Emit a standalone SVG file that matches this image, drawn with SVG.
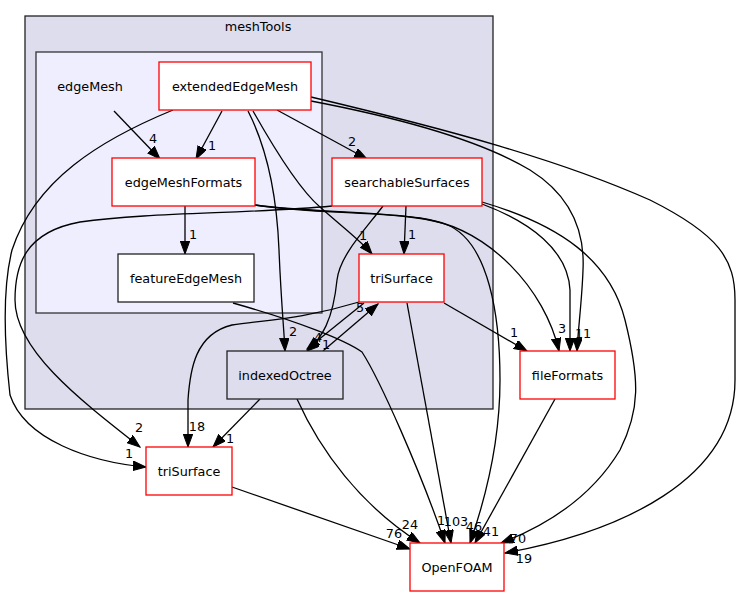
<svg xmlns="http://www.w3.org/2000/svg" width="741" height="596" viewBox="0 0 741 596">
<defs>
<marker id="ah" markerUnits="userSpaceOnUse" markerWidth="14" markerHeight="10" refX="13" refY="4.75" orient="auto">
<path d="M0,0 L13,4.75 L0,9.5 z" fill="#000" stroke="#000" stroke-width="1"/>
</marker>
</defs>
<style>
text{font-family:"DejaVu Sans",sans-serif;font-size:12.8px;fill:#000;text-anchor:middle}
.cl1{fill:#ddddee;stroke:#222;stroke-width:1.3}
.cl2{fill:#eeeeff;stroke:#333;stroke-width:1.3}
.red{fill:#fff;stroke:#ff0000;stroke-width:1.3}
.blk{fill:#fff;stroke:#222;stroke-width:1.3}
.blkg{fill:#ddddee;stroke:#222;stroke-width:1.3}
#edges path{fill:none;stroke:#000;stroke-width:1.3;marker-end:url(#ah)}
</style>
<rect width="741" height="596" fill="#fff"/>
<g id="cluster_meshTools">
<rect class="cl1" x="25" y="16" width="468" height="393"/>
<text x="258" y="31">meshTools</text>
</g>
<g id="cluster_edgeMesh">
<rect class="cl2" x="36" y="52" width="286" height="261"/>
</g>
<g id="edges">
<path d="M114,111 L160,159"/>
<path d="M222,111 L196,159"/>
<path d="M277,110 L367,159"/>
<path d="M248,111 C268,150 277,200 279,250 C281,300 284,330 285,351"/>
<path d="M253,111 C275,150 300,190 320,207 C340,225 360,240 372,254"/>
<path d="M173,110 C100,140 35,180 12,250 C2,290 5,350 10,395 C25,440 90,462 146,467"/>
<path d="M332,206 C250,214 150,212 80,222 C25,232 15,265 15,300 C15,350 80,400 140,447"/>
<path d="M185,206 L185,254"/>
<path d="M406,206 L404,254"/>
<path d="M383,206 C365,230 340,255 337,280 C333,320 322,338 307,351"/>
<path d="M364,303 L307,349"/>
<path d="M323,351 L378,304"/>
<path d="M359,302 C300,320 262,320 232,325 C195,334 190,370 188,400 L188,447"/>
<path d="M444,303 L527,351"/>
<path d="M255,205 C300,213 380,212 420,218 C490,228 545,290 559,351"/>
<path d="M255,205 C320,214 400,210 445,224 C490,240 500,320 500,380 C500,440 485,500 470,543"/>
<path d="M482,204 C530,222 568,250 570,290 L570,351"/>
<path d="M482,202 C560,225 610,260 625,320 C640,380 640,410 620,450 C590,500 540,528 501,543"/>
<path d="M311,101 C400,118 480,140 530,170 C570,195 585,230 583,270 C582,300 578,330 577,351"/>
<path d="M311,97 C450,130 560,160 650,200 C720,235 735,260 735,300 L735,380 C735,480 620,532 505,553"/>
<path d="M232,487 L410,549"/>
<path d="M297,399 C320,450 360,505 420,543"/>
<path d="M233,303 C300,322 345,340 362,352 C380,380 420,470 445,543"/>
<path d="M407,303 L451,543"/>
<path d="M555,399 L475,543"/>
<path d="M260,399 L213,447"/>
</g>
<g id="edge_labels">
<text x="153" y="143">4</text>
<text x="212" y="150">1</text>
<text x="352" y="146">2</text>
<text x="193" y="239">1</text>
<text x="363" y="240">1</text>
<text x="412" y="239">1</text>
<text x="293" y="336">2</text>
<text x="318" y="342">4</text>
<text x="326" y="349">1</text>
<text x="360" y="312">5</text>
<text x="514" y="337">1</text>
<text x="562" y="333">3</text>
<text x="579" y="338">1</text>
<text x="587" y="338">1</text>
<text x="197" y="431">18</text>
<text x="139" y="432">2</text>
<text x="129" y="458">1</text>
<text x="230" y="443">1</text>
<text x="410" y="529">24</text>
<text x="394" y="538">76</text>
<text x="441" y="525">1</text>
<text x="456" y="526">103</text>
<text x="474" y="531">46</text>
<text x="491" y="536">41</text>
<text x="518" y="543">70</text>
<text x="524" y="563">19</text>
</g>
<g id="edgeMesh"><text x="90" y="91">edgeMesh</text></g>
<g id="extendedEdgeMesh"><rect class="red" x="159" y="62" width="152" height="48"/><text x="235" y="91">extendedEdgeMesh</text></g>
<g id="edgeMeshFormats"><rect class="red" x="112" y="158" width="143" height="48"/><text x="183.5" y="187">edgeMeshFormats</text></g>
<g id="searchableSurfaces"><rect class="red" x="332" y="158" width="150" height="48"/><text x="407" y="187">searchableSurfaces</text></g>
<g id="featureEdgeMesh"><rect class="blk" x="118" y="254" width="136" height="48"/><text x="186" y="283">featureEdgeMesh</text></g>
<g id="triSurface_inner"><rect class="red" x="359" y="254" width="85" height="48"/><text x="401.5" y="283">triSurface</text></g>
<g id="indexedOctree"><rect class="blkg" x="227" y="351" width="116" height="48"/><text x="285" y="380">indexedOctree</text></g>
<g id="fileFormats"><rect class="red" x="520" y="351" width="95" height="48"/><text x="567.5" y="380">fileFormats</text></g>
<g id="triSurface"><rect class="red" x="146" y="447" width="86" height="48"/><text x="189" y="476">triSurface</text></g>
<g id="OpenFOAM"><rect class="red" x="410" y="543" width="94" height="48"/><text x="457" y="572">OpenFOAM</text></g>
</svg>
